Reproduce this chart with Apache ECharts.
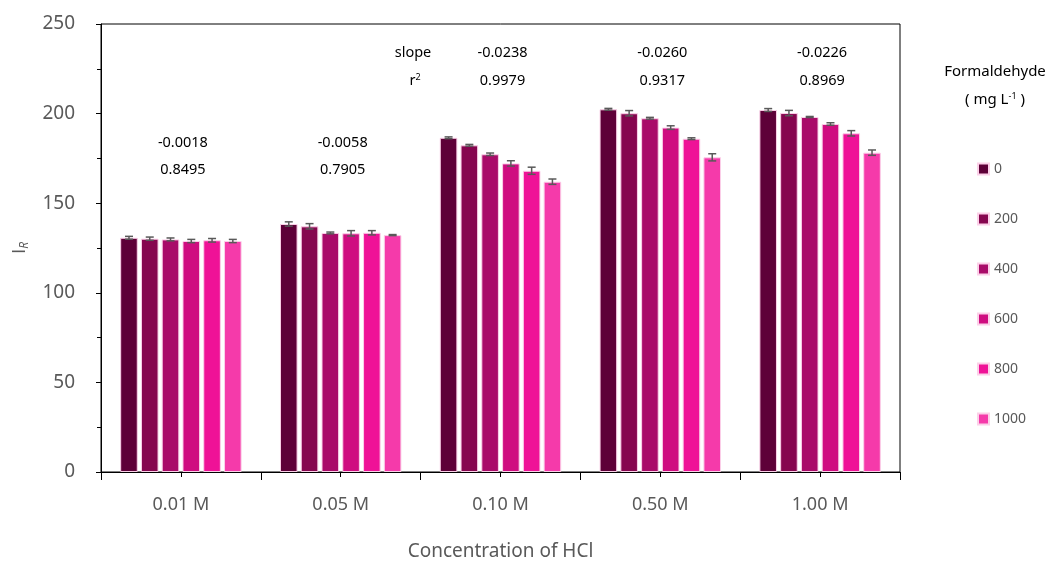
<!DOCTYPE html>
<html>
<head>
<meta charset="utf-8">
<script src="https://cdn.jsdelivr.net/npm/echarts@6/dist/echarts.min.js"></script>
<style>
  html, body { margin: 0; padding: 0; background: #ffffff; }
  #chart { width: 1052px; height: 561px; }
</style>
</head>
<body>
<div id="chart"></div>
<script>
// HCl concentrations on the x axis
const categories = ['0.01 M', '0.05 M', '0.10 M', '0.50 M', '1.00 M'];

// Formaldehyde levels (mg L-1), one bar series each
const levels = ['0', '200', '400', '600', '800', '1000'];

// Mean I_R per level, across the HCl concentrations
const ir0    = [130.7, 138.4, 186.5, 202.4, 202.0];
const ir200  = [130.2, 137.1, 182.3, 200.2, 200.3];
const ir400  = [129.8, 133.4, 177.3, 197.4, 198.1];
const ir600  = [128.9, 133.2, 172.2, 192.2, 194.2];
const ir800  = [129.3, 133.5, 168.1, 186.0, 189.0];
const ir1000 = [128.9, 132.2, 162.0, 175.6, 178.2];

// Standard deviations for the error bars
const sd0    = [0.8, 1.2, 0.5, 0.5, 0.8];
const sd200  = [0.9, 1.5, 0.5, 1.5, 1.5];
const sd400  = [0.8, 0.5, 0.7, 0.5, 0.3];
const sd600  = [0.9, 1.5, 1.5, 1.0, 0.7];
const sd800  = [1.0, 1.2, 2.0, 0.5, 1.5];
const sd1000 = [0.9, 0.3, 1.5, 2.0, 1.5];

// Linear fit of I_R against formaldehyde for each HCl concentration
const slopes = ['-0.0018', '-0.0058', '-0.0238', '-0.0260', '-0.0226'];
const r2s    = ['0.8495', '0.7905', '0.9979', '0.9317', '0.8969'];

// Y axis ticks
const yTicks = [0, 50, 100, 150, 200, 250];

const means = [ir0, ir200, ir400, ir600, ir800, ir1000];
const sds = [sd0, sd200, sd400, sd600, sd800, sd1000];
const colors = ['#5e0038', '#86064f', '#a90b69', '#cf0d80', '#ef1297', '#f53aaa'];

const CAT_GAP = 0.24;
const BAR_GAP = 0.18;
const nSeries = levels.length;

const FONT = '"Noto Sans", "DejaVu Sans", sans-serif';
const GREY = '#595959';

const chart = echarts.init(document.getElementById('chart'), null, { renderer: 'canvas' });

const barSeries = levels.map((lv, i) => ({
  name: lv,
  type: 'bar',
  xAxisIndex: 0,
  data: means[i],
  barCategoryGap: (CAT_GAP * 100) + '%',
  barGap: (BAR_GAP * 100) + '%',
  itemStyle: { color: colors[i], borderColor: '#fbd0e8', borderWidth: 1 },
  emphasis: { disabled: true }
}));

// Error bars drawn at each bar's offset inside its category band
const errorSeries = levels.map((lv, i) => ({
  type: 'custom',
  xAxisIndex: 0,
  z: 10,
  silent: true,
  data: means[i].map((m, k) => [k, m - sds[i][k], m + sds[i][k]]),
  renderItem: function (params, api) {
    const band = api.size([1, 0])[0];
    const used = band * (1 - CAT_GAP);
    const bw = used / (nSeries + (nSeries - 1) * BAR_GAP);
    const offset = -used / 2 + i * bw * (1 + BAR_GAP) + bw / 2;
    const lo = api.coord([api.value(0), api.value(1)]);
    const hi = api.coord([api.value(0), api.value(2)]);
    const x = lo[0] + offset;
    const cap = 4;
    const style = { stroke: GREY, lineWidth: 1.5 };
    return {
      type: 'group',
      children: [
        { type: 'line', shape: { x1: x, y1: lo[1], x2: x, y2: hi[1] }, style: style },
        { type: 'line', shape: { x1: x - cap, y1: lo[1], x2: x + cap, y2: lo[1] }, style: style },
        { type: 'line', shape: { x1: x - cap, y1: hi[1], x2: x + cap, y2: hi[1] }, style: style }
      ]
    };
  }
}));

chart.setOption({
  animation: false,
  backgroundColor: '#ffffff',
  textStyle: { fontFamily: FONT },
  grid: {
    left: 101, top: 24, right: 152, bottom: 89,
    outerBoundsMode: 'none',
    containLabel: false,
    show: true, borderColor: '#000', borderWidth: 1, backgroundColor: 'transparent'
  },
  legend: {
    orient: 'vertical',
    left: 972,
    top: 157,
    icon: 'rect',
    itemWidth: 11,
    itemHeight: 11,
    itemGap: 36,
    selectedMode: false,
    data: levels,
    textStyle: { color: GREY, fontSize: 14, fontFamily: FONT }
  },
  xAxis: [
    {
      type: 'category',
      data: categories,
      axisLine: { lineStyle: { color: '#000', width: 1 } },
      axisTick: { show: true, length: 8, lineStyle: { color: '#000' } },
      axisLabel: { color: GREY, fontSize: 18, margin: 24, fontFamily: FONT },
      name: 'Concentration of HCl',
      nameLocation: 'middle',
      nameGap: 70,
      nameTextStyle: { color: GREY, fontSize: 19, fontFamily: FONT }
    },
    {
      // short centre ticks under each group
      type: 'category',
      data: categories,
      position: 'bottom',
      axisLine: { show: false },
      axisTick: { show: true, alignWithLabel: true, length: 5, lineStyle: { color: '#000' } },
      axisLabel: { show: false }
    }
  ],
  yAxis: {
    type: 'value',
    min: yTicks[0],
    max: yTicks[yTicks.length - 1],
    interval: yTicks[1] - yTicks[0],
    axisLine: { show: true, lineStyle: { color: '#000', width: 1 } },
    axisTick: { show: true, length: 5, lineStyle: { color: '#000' } },
    minorTick: { show: true, splitNumber: 2, length: 4, lineStyle: { color: '#000' } },
    splitLine: { show: false },
    axisLabel: { color: GREY, fontSize: 19, margin: 26, fontFamily: FONT }
  },
  series: barSeries.concat(errorSeries)
});

// Slope and r² labels above each group, the y-axis title and the legend heading
function placeAnnotations() {
  const els = [];
  const rowsLow = [143, 170];
  const rowsHigh = [53, 81];
  const f = '14.5px ' + FONT;
  categories.forEach((c, k) => {
    const x = chart.convertToPixel({ xAxisIndex: 0 }, c) + 2;
    const rows = k < 2 ? rowsLow : rowsHigh;
    els.push({ type: 'text', x: x, y: rows[0], style: { text: slopes[k], fill: '#000', font: f, align: 'center', verticalAlign: 'middle' } });
    els.push({ type: 'text', x: x, y: rows[1], style: { text: r2s[k], fill: '#000', font: f, align: 'center', verticalAlign: 'middle' } });
  });
  els.push({ type: 'text', x: 413, y: 53, style: { text: 'slope', fill: '#000', font: f, align: 'center', verticalAlign: 'middle' } });
  els.push({
    type: 'text', x: 415, y: 81,
    style: {
      text: '{a|r}{b|2}', align: 'center', verticalAlign: 'middle',
      rich: {
        a: { fontSize: 14.5, fill: '#000', fontFamily: FONT },
        b: { fontSize: 9, fill: '#000', fontFamily: FONT, padding: [0, 0, 8, 0] }
      }
    }
  });
  // y-axis title I_R
  const SANS_I = '"Open Sans", Lato, "DejaVu Sans", sans-serif';
  els.push({
    type: 'text', x: 20, y: 248, rotation: Math.PI / 2,
    style: {
      text: '{a|I}{b|R}', align: 'center', verticalAlign: 'middle',
      rich: {
        a: { fontSize: 19, fill: GREY, fontFamily: SANS_I },
        b: { fontSize: 12, fill: GREY, fontStyle: 'italic', fontFamily: SANS_I, padding: [9, 0, 0, 0] }
      }
    }
  });
  els.push({ type: 'text', x: 995, y: 72, style: { text: 'Formaldehyde', fill: '#000', font: '15px ' + FONT, align: 'center', verticalAlign: 'middle' } });
  els.push({
    type: 'text', x: 995, y: 100,
    style: {
      text: '{a|( mg L}{b|-1}{a| )}', align: 'center', verticalAlign: 'middle',
      rich: {
        a: { fontSize: 15, fill: '#000', fontFamily: FONT },
        b: { fontSize: 9, fill: '#000', fontFamily: FONT, padding: [0, 0, 8, 0] }
      }
    }
  });
  chart.setOption({ graphic: { elements: els } });
}
placeAnnotations();
</script>
</body>
</html>
